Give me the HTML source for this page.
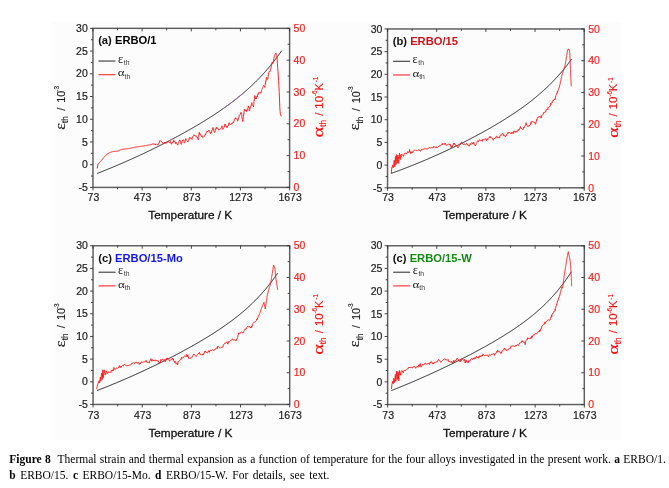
<!DOCTYPE html>
<html><head><meta charset="utf-8"><style>
html,body{margin:0;padding:0;background:#fff;}
body{width:669px;height:488px;overflow:hidden;position:relative;}
svg{position:absolute;left:0;top:0;will-change:transform;}
text{font-family:"Liberation Sans",sans-serif;}
.tl text{font-size:10.5px;fill:#222;stroke:#222;stroke-width:0.2px;}
.tr text{font-size:10.5px;fill:#ff1f1f;stroke:#ff1f1f;stroke-width:0.2px;}
.xt{font-size:11.8px;fill:#111;stroke:#111;stroke-width:0.3px;}
.ytl text{fill:#1a1a1a;stroke:#1a1a1a;stroke-width:0.12px;}
.ytr text{fill:#ff0a0a;stroke:#ff0a0a;stroke-width:0.12px;}
.g16{font-family:"Liberation Serif",serif;font-size:15px;}
.g14{font-family:"Liberation Serif",serif;font-size:14px;}
.s75{font-size:8.2px;}
.s11{font-size:11px;}
.s108{font-size:10.8px;}
.s115{font-size:11.4px;}
.s65{font-size:6.5px;}
.ttl{font-size:11.2px;font-weight:bold;fill:#111;}
.lgk{font-family:"Liberation Serif",serif;font-size:13px;fill:#222;}
.lgk2{font-family:"Liberation Serif",serif;font-size:10.5px;fill:#222;}
.lsub{font-size:6.8px;fill:#3a3a3a;}
.cap{position:absolute;left:9.3px;width:656.5px;font-family:"Liberation Serif",serif;font-size:11.5px;line-height:16px;color:#000;white-space:nowrap;}
.l1{top:451px;text-align:justify;text-align-last:justify;white-space:normal;}
.l2{top:467px;word-spacing:1.6px;}
</style></head><body>
<svg width="669" height="488" viewBox="0 0 669 488">
<rect x="53" y="22" width="569" height="418" fill="#fcfcfc"/>
<rect x="92.95" y="28.35" width="196.65" height="159.05" fill="none" stroke="#5e5e5e" stroke-width="1.45"/>
<path d="M92.95,187.40V190.40 M92.95,28.35V31.35 M117.53,187.40V189.40 M117.53,28.35V30.35 M142.11,187.40V190.40 M142.11,28.35V31.35 M166.69,187.40V189.40 M166.69,28.35V30.35 M191.28,187.40V190.40 M191.28,28.35V31.35 M215.86,187.40V189.40 M215.86,28.35V30.35 M240.44,187.40V190.40 M240.44,28.35V31.35 M265.02,187.40V189.40 M265.02,28.35V30.35 M289.60,187.40V190.40 M289.60,28.35V31.35 M92.95,187.40H89.95 M92.95,176.04H90.95 M92.95,164.68H89.95 M92.95,153.32H90.95 M92.95,141.96H89.95 M92.95,130.60H90.95 M92.95,119.24H89.95 M92.95,107.88H90.95 M92.95,96.51H89.95 M92.95,85.15H90.95 M92.95,73.79H89.95 M92.95,62.43H90.95 M92.95,51.07H89.95 M92.95,39.71H90.95 M92.95,28.35H89.95 M289.60,187.40H286.60 M289.60,171.50H287.60 M289.60,155.59H286.60 M289.60,139.69H287.60 M289.60,123.78H286.60 M289.60,107.88H287.60 M289.60,91.97H286.60 M289.60,76.06H287.60 M289.60,60.16H286.60 M289.60,44.25H287.60 M289.60,28.35H286.60" stroke="#333" stroke-width="0.9" fill="none"/>
<g class="tl"><text x="93.45" y="201.00" text-anchor="middle">73</text><text x="142.61" y="201.00" text-anchor="middle">473</text><text x="191.78" y="201.00" text-anchor="middle">873</text><text x="240.94" y="201.00" text-anchor="middle">1273</text><text x="290.10" y="201.00" text-anchor="middle">1673</text><text x="87.75" y="191.10" text-anchor="end">-5</text><text x="87.75" y="168.38" text-anchor="end">0</text><text x="87.75" y="145.66" text-anchor="end">5</text><text x="87.75" y="122.94" text-anchor="end">10</text><text x="87.75" y="100.21" text-anchor="end">15</text><text x="87.75" y="77.49" text-anchor="end">20</text><text x="87.75" y="54.77" text-anchor="end">25</text><text x="87.75" y="32.05" text-anchor="end">30</text></g>
<g class="tr"><text x="293.60" y="191.10">0</text><text x="293.60" y="159.29">10</text><text x="293.60" y="127.48">20</text><text x="293.60" y="95.67">30</text><text x="293.60" y="63.86">40</text><text x="293.60" y="32.05">50</text></g>
<text class="xt" x="190.28" y="218.70" text-anchor="middle">Temperature / K</text>
<g class="ytl" transform="translate(65.35,129.45) rotate(-90)"><text class="g16" x="-0.30" y="-0.80" textLength="6.6" lengthAdjust="spacingAndGlyphs">ε</text><text class="s75" x="6.50" y="2.70">th</text><text class="s11" x="18.70" y="0.00">/</text><text class="s108" x="26.80" y="0.00">10</text><text class="s65" x="37.80" y="-6.60">-3</text></g>
<g class="ytr" transform="translate(322.60,136.95) rotate(-90)"><text class="g14" x="-0.50" y="0.30" textLength="10.6" lengthAdjust="spacingAndGlyphs">α</text><text class="s75" x="10.20" y="3.30">th</text><text class="s11" x="21.10" y="0.00">/</text><text class="s115" x="28.30" y="0.00">10</text><text class="s65" x="40.80" y="-5.50">-6</text><text class="s11" x="46.40" y="0.00">K</text><text class="s65" x="54.60" y="-4.50">-1</text></g>
<text class="ttl" x="98.15" y="44.25">(a) <tspan fill="#000000">ERBO/1</tspan></text>
<path d="M98.45,61.05H115.45" stroke="#555" stroke-width="1.3"/>
<path d="M98.45,74.65H115.45" stroke="#ff4a4a" stroke-width="1.3"/>
<text class="lgk" x="117.95" y="62.65" textLength="5.2" lengthAdjust="spacingAndGlyphs">ε</text>
<text class="lsub" x="123.75" y="64.95">th</text>
<text class="lgk2" x="117.85" y="76.35" textLength="6.8" lengthAdjust="spacingAndGlyphs">α</text>
<text class="lsub" x="124.55" y="78.85">th</text>
<path d="M97.20,173.46 L97.70,173.26 L98.20,173.07 L98.70,172.87 L99.20,172.68 L99.70,172.48 L100.20,172.28 L100.70,172.08 L101.20,171.89 L101.70,171.69 L102.20,171.49 L102.70,171.29 L103.20,171.09 L103.70,170.89 L104.20,170.69 L104.70,170.49 L105.20,170.29 L105.70,170.08 L106.20,169.88 L106.70,169.68 L107.20,169.47 L107.70,169.27 L108.20,169.07 L108.70,168.86 L109.20,168.66 L109.70,168.45 L110.20,168.25 L110.70,168.04 L111.20,167.83 L111.70,167.62 L112.20,167.42 L112.70,167.21 L113.20,167.00 L113.70,166.79 L114.20,166.58 L114.70,166.37 L115.20,166.16 L115.70,165.95 L116.20,165.74 L116.70,165.53 L117.20,165.31 L117.70,165.10 L118.20,164.89 L118.70,164.68 L119.20,164.46 L119.70,164.25 L120.20,164.03 L120.70,163.82 L121.20,163.60 L121.70,163.38 L122.20,163.17 L122.70,162.95 L123.20,162.73 L123.70,162.52 L124.20,162.30 L124.70,162.08 L125.20,161.86 L125.70,161.64 L126.20,161.42 L126.70,161.20 L127.20,160.98 L127.70,160.76 L128.20,160.53 L128.70,160.31 L129.20,160.09 L129.70,159.87 L130.20,159.64 L130.70,159.42 L131.20,159.19 L131.70,158.97 L132.20,158.74 L132.70,158.52 L133.20,158.29 L133.70,158.06 L134.20,157.84 L134.70,157.61 L135.20,157.38 L135.70,157.15 L136.20,156.92 L136.70,156.69 L137.20,156.46 L137.70,156.23 L138.20,156.00 L138.70,155.77 L139.20,155.54 L139.70,155.31 L140.20,155.07 L140.70,154.84 L141.20,154.61 L141.70,154.37 L142.20,154.14 L142.70,153.90 L143.20,153.67 L143.70,153.43 L144.20,153.20 L144.70,152.96 L145.20,152.72 L145.70,152.48 L146.20,152.25 L146.70,152.01 L147.20,151.77 L147.70,151.53 L148.20,151.29 L148.70,151.05 L149.20,150.81 L149.70,150.57 L150.20,150.33 L150.70,150.08 L151.20,149.84 L151.70,149.60 L152.20,149.35 L152.70,149.11 L153.20,148.87 L153.70,148.62 L154.20,148.37 L154.70,148.13 L155.20,147.88 L155.70,147.64 L156.20,147.39 L156.70,147.14 L157.20,146.89 L157.70,146.64 L158.20,146.39 L158.70,146.14 L159.20,145.89 L159.70,145.64 L160.20,145.39 L160.70,145.14 L161.20,144.89 L161.70,144.64 L162.20,144.38 L162.70,144.13 L163.20,143.87 L163.70,143.62 L164.20,143.36 L164.70,143.11 L165.20,142.85 L165.70,142.60 L166.20,142.34 L166.70,142.08 L167.20,141.82 L167.70,141.56 L168.20,141.30 L168.70,141.04 L169.20,140.78 L169.70,140.52 L170.20,140.26 L170.70,140.00 L171.20,139.74 L171.70,139.48 L172.20,139.21 L172.70,138.95 L173.20,138.68 L173.70,138.42 L174.20,138.15 L174.70,137.89 L175.20,137.62 L175.70,137.35 L176.20,137.08 L176.70,136.82 L177.20,136.55 L177.70,136.28 L178.20,136.01 L178.70,135.74 L179.20,135.47 L179.70,135.19 L180.20,134.92 L180.70,134.65 L181.20,134.37 L181.70,134.10 L182.20,133.82 L182.70,133.55 L183.20,133.27 L183.70,133.00 L184.20,132.72 L184.70,132.44 L185.20,132.16 L185.70,131.88 L186.20,131.60 L186.70,131.32 L187.20,131.04 L187.70,130.76 L188.20,130.48 L188.70,130.19 L189.20,129.91 L189.70,129.63 L190.20,129.34 L190.70,129.05 L191.20,128.77 L191.70,128.48 L192.20,128.19 L192.70,127.90 L193.20,127.61 L193.70,127.32 L194.20,127.03 L194.70,126.74 L195.20,126.45 L195.70,126.16 L196.20,125.86 L196.70,125.57 L197.20,125.27 L197.70,124.97 L198.20,124.68 L198.70,124.38 L199.20,124.08 L199.70,123.78 L200.20,123.48 L200.70,123.18 L201.20,122.88 L201.70,122.57 L202.20,122.27 L202.70,121.97 L203.20,121.66 L203.70,121.35 L204.20,121.05 L204.70,120.74 L205.20,120.43 L205.70,120.12 L206.20,119.81 L206.70,119.50 L207.20,119.18 L207.70,118.87 L208.20,118.55 L208.70,118.24 L209.20,117.92 L209.70,117.60 L210.20,117.28 L210.70,116.96 L211.20,116.64 L211.70,116.32 L212.20,116.00 L212.70,115.67 L213.20,115.35 L213.70,115.02 L214.20,114.69 L214.70,114.36 L215.20,114.03 L215.70,113.70 L216.20,113.37 L216.70,113.04 L217.20,112.70 L217.70,112.37 L218.20,112.03 L218.70,111.69 L219.20,111.35 L219.70,111.01 L220.20,110.67 L220.70,110.32 L221.20,109.98 L221.70,109.63 L222.20,109.29 L222.70,108.94 L223.20,108.59 L223.70,108.23 L224.20,107.88 L224.70,107.53 L225.20,107.17 L225.70,106.81 L226.20,106.45 L226.70,106.09 L227.20,105.73 L227.70,105.37 L228.20,105.00 L228.70,104.63 L229.20,104.26 L229.70,103.89 L230.20,103.52 L230.70,103.15 L231.20,102.77 L231.70,102.40 L232.20,102.02 L232.70,101.64 L233.20,101.25 L233.70,100.87 L234.20,100.48 L234.70,100.10 L235.20,99.71 L235.70,99.31 L236.20,98.92 L236.70,98.52 L237.20,98.13 L237.70,97.73 L238.20,97.32 L238.70,96.92 L239.20,96.52 L239.70,96.11 L240.20,95.70 L240.70,95.28 L241.20,94.87 L241.70,94.45 L242.20,94.03 L242.70,93.61 L243.20,93.19 L243.70,92.76 L244.20,92.33 L244.70,91.90 L245.20,91.47 L245.70,91.04 L246.20,90.60 L246.70,90.16 L247.20,89.71 L247.70,89.27 L248.20,88.82 L248.70,88.37 L249.20,87.91 L249.70,87.46 L250.20,87.00 L250.70,86.54 L251.20,86.07 L251.70,85.60 L252.20,85.13 L252.70,84.66 L253.20,84.18 L253.70,83.70 L254.20,83.22 L254.70,82.74 L255.20,82.25 L255.70,81.75 L256.20,81.26 L256.70,80.76 L257.20,80.26 L257.70,79.75 L258.20,79.25 L258.70,78.73 L259.20,78.22 L259.70,77.70 L260.20,77.18 L260.70,76.65 L261.20,76.12 L261.70,75.59 L262.20,75.05 L262.70,74.51 L263.20,73.97 L263.70,73.42 L264.20,72.87 L264.70,72.31 L265.20,71.75 L265.70,71.19 L266.20,70.62 L266.70,70.05 L267.20,69.47 L267.70,68.89 L268.20,68.30 L268.70,67.71 L269.20,67.12 L269.70,66.52 L270.20,65.92 L270.70,65.31 L271.20,64.70 L271.70,64.08 L272.20,63.46 L272.70,62.84 L273.20,62.20 L273.70,61.57 L274.20,60.93 L274.70,60.28 L275.20,59.63 L275.70,58.97 L276.20,58.31 L276.70,57.65 L277.20,56.98 L277.70,56.30 L278.20,55.62 L278.70,54.93 L279.20,54.23 L279.70,53.53 L280.20,52.83 L280.70,52.12 L281.20,51.40 L281.70,50.68" stroke="#1a1a1a" stroke-width="1" fill="none"/>
<path d="M222.70,108.94 L223.20,108.59 L223.70,108.23 L224.20,107.88 L224.70,107.53 L225.20,107.17 L225.70,106.81 L226.20,106.45 L226.70,106.09 L227.20,105.73 L227.70,105.37 L228.20,105.00 L228.70,104.63 L229.20,104.26 L229.70,103.89 L230.20,103.52 L230.70,103.15 L231.20,102.77 L231.70,102.40 L232.20,102.02 L232.70,101.64 L233.20,101.25 L233.70,100.87 L234.20,100.48 L234.70,100.10 L235.20,99.71 L235.70,99.31 L236.20,98.92 L236.70,98.52 L237.20,98.13 L237.70,97.73 L238.20,97.32 L238.70,96.92 L239.20,96.52 L239.70,96.11 L240.20,95.70 L240.70,95.28 L241.20,94.87 L241.70,94.45 L242.20,94.03 L242.70,93.61" stroke="#a070b8" stroke-width="1" fill="none"/>
<path d="M97.20,168.40 L97.70,165.24 L98.20,164.13 L98.70,163.31 L99.20,162.71 L99.70,162.24 L100.20,161.82 L100.70,161.36 L101.20,160.80 L101.70,160.14 L102.20,159.47 L102.70,158.80 L103.20,158.15 L103.70,157.54 L104.20,156.98 L104.70,156.44 L105.20,155.92 L105.70,155.43 L106.20,154.97 L106.70,154.55 L107.20,154.18 L107.70,153.81 L108.20,153.47 L108.70,153.16 L109.20,152.88 L109.70,152.64 L110.20,152.44 L110.70,152.24 L111.20,152.06 L111.70,151.90 L112.20,151.75 L112.70,151.63 L113.20,151.53 L113.70,151.46 L114.20,151.41 L114.70,151.37 L115.20,151.34 L115.70,151.31 L116.20,151.28 L116.70,151.23 L117.20,151.18 L117.70,151.10 L118.20,150.90 L118.70,150.60 L119.20,150.36 L119.70,150.17 L120.20,149.99 L120.70,149.82 L121.20,149.67 L121.70,149.53 L122.20,149.40 L122.70,149.30 L123.20,149.21 L123.70,149.13 L124.20,149.06 L124.70,149.00 L125.20,148.94 L125.70,148.89 L126.20,148.83 L126.70,148.78 L127.20,148.72 L127.70,148.66 L128.20,148.60 L128.70,148.53 L129.20,148.45 L129.70,148.37 L130.20,148.28 L130.70,148.18 L131.20,148.08 L131.70,147.97 L132.20,147.87 L132.70,147.76 L133.20,147.65 L133.70,147.55 L134.20,147.44 L134.70,147.34 L135.20,147.25 L135.70,147.15 L136.20,147.07 L136.70,146.98 L137.20,146.90 L137.70,146.83 L138.20,146.75 L138.70,146.68 L139.20,146.61 L139.70,146.53 L140.20,146.46 L140.70,146.39 L141.20,146.32 L141.70,146.24 L142.20,146.16 L142.70,146.08 L143.20,146.00 L143.70,145.91 L144.20,145.83 L144.70,145.74 L145.20,145.65 L145.70,145.55 L146.20,145.46 L146.70,145.36 L147.20,145.27 L147.70,145.17 L148.20,145.07 L148.70,144.97 L149.20,144.87 L149.70,144.76 L150.80,144.81 L151.60,144.39 L152.40,143.94 L153.20,144.13 L154.00,143.73 L154.80,144.29 L155.40,145.00 L155.59,143.94 L156.38,144.01 L157.17,144.82 L157.96,144.89 L158.10,144.76 L158.42,143.56 L158.82,143.41 L159.21,143.14 L159.61,141.22 L159.90,141.23 L160.07,140.46 L160.76,141.24 L161.46,141.32 L162.15,142.69 L162.60,142.34 L162.87,143.30 L163.67,143.36 L164.46,143.27 L165.20,141.99 L165.25,143.16 L165.99,143.15 L166.74,142.94 L167.48,141.65 L167.90,142.11 L168.25,141.76 L169.04,141.75 L169.83,142.75 L170.60,141.52 L170.61,142.01 L170.91,143.30 L171.22,143.16 L171.50,144.13 L171.53,144.22 L171.98,143.52 L172.43,142.09 L172.88,142.20 L173.33,142.31 L173.78,139.90 L173.80,141.32 L174.36,141.40 L174.94,141.50 L175.52,143.64 L176.00,143.36 L176.10,142.28 L176.67,143.61 L177.23,144.48 L177.80,144.59 L177.80,145.11 L178.10,143.91 L178.40,143.61 L178.70,143.32 L178.99,141.31 L179.29,141.09 L179.59,139.95 L179.60,140.28 L179.95,140.18 L180.31,141.26 L180.67,142.21 L181.02,143.59 L181.38,144.45 L181.40,143.01 L181.68,142.61 L181.98,142.73 L182.28,140.40 L182.58,140.58 L182.88,140.05 L183.18,140.12 L183.20,139.71 L183.45,139.80 L183.72,140.53 L184.00,141.35 L184.27,143.17 L184.50,142.64 L184.54,142.60 L184.80,142.24 L185.06,141.19 L185.32,140.39 L185.58,139.08 L185.84,138.98 L185.90,138.53 L186.24,140.00 L186.68,140.36 L187.13,140.62 L187.57,141.71 L187.70,141.30 L187.99,141.64 L188.39,140.31 L188.79,139.97 L189.20,138.15 L189.50,138.61 L189.68,137.48 L190.39,137.63 L191.11,139.02 L191.30,138.76 L191.60,138.88 L192.00,139.44 L192.40,136.90 L192.80,136.33 L193.20,136.13 L193.61,135.61 L193.90,134.69 L194.08,134.79 L194.75,135.79 L195.41,136.12 L196.08,135.63 L196.60,136.55 L196.70,136.77 L197.15,136.79 L197.59,138.24 L198.04,138.24 L198.40,139.88 L198.42,139.27 L198.55,138.42 L198.67,137.21 L198.79,136.70 L198.91,134.78 L199.04,134.51 L199.16,134.61 L199.28,132.32 L199.30,134.01 L199.76,132.98 L200.29,135.09 L200.81,134.73 L201.34,136.31 L201.87,136.53 L202.00,135.68 L202.59,137.24 L203.38,137.21 L204.17,136.16 L204.70,135.94 L204.82,135.77 L205.19,134.56 L205.56,135.09 L205.92,133.40 L206.29,132.98 L206.50,132.12 L206.74,131.98 L207.29,131.01 L207.85,131.95 L208.41,130.52 L208.90,130.68 L208.94,130.19 L209.26,130.50 L209.58,131.46 L209.90,132.05 L210.22,133.13 L210.54,133.64 L210.60,133.82 L210.85,132.57 L211.15,132.17 L211.46,132.90 L211.76,130.77 L212.07,129.79 L212.37,129.88 L212.68,129.78 L212.90,127.53 L212.99,128.48 L213.30,128.96 L213.61,129.02 L213.93,131.26 L214.24,131.54 L214.56,132.34 L214.60,131.95 L214.87,132.04 L215.19,130.71 L215.51,130.21 L215.83,128.89 L216.15,128.09 L216.46,128.88 L216.78,127.04 L216.80,127.48 L217.28,127.86 L217.79,128.24 L218.30,128.82 L218.81,130.12 L219.10,129.92 L219.32,129.74 L219.83,129.23 L220.34,129.30 L220.85,128.38 L221.36,127.59 L221.87,126.40 L221.90,125.87 L222.23,127.95 L222.57,128.69 L222.92,128.75 L223.00,129.33 L223.25,128.91 L223.58,128.21 L223.91,127.53 L224.24,125.97 L224.57,126.42 L224.90,124.03 L225.23,124.56 L225.30,124.20 L225.59,125.00 L225.95,126.32 L226.30,126.80 L226.66,125.94 L227.00,126.29 L227.03,127.75 L227.46,125.97 L227.90,125.90 L228.34,125.74 L228.77,123.57 L229.20,122.63 L229.21,124.06 L229.89,124.37 L230.56,124.63 L230.90,125.02 L231.19,124.21 L231.77,123.26 L232.35,123.51 L232.93,122.48 L233.20,121.81 L233.39,122.72 L233.74,121.66 L234.09,121.22 L234.45,119.66 L234.80,119.14 L235.15,118.21 L235.40,117.77 L235.59,118.56 L236.24,118.45 L236.88,119.61 L237.53,120.08 L237.70,121.22 L237.93,118.63 L238.25,119.26 L238.57,117.93 L238.89,117.24 L239.21,115.64 L239.53,115.50 L239.85,115.49 L240.16,114.25 L240.48,113.61 L240.80,112.65 L240.90,113.29 L241.02,113.13 L241.20,112.60 L241.37,114.29 L241.55,114.31 L241.72,114.32 L241.90,116.74 L242.07,118.64 L242.25,118.65 L242.42,118.71 L242.60,119.63 L242.77,121.65 L242.80,121.19 L242.90,120.46 L243.01,119.60 L243.12,118.86 L243.24,118.53 L243.35,117.58 L243.46,116.59 L243.58,115.04 L243.69,115.17 L243.80,113.66 L243.92,113.93 L244.03,111.72 L244.14,111.61 L244.26,110.89 L244.37,109.30 L244.49,110.34 L244.50,110.08 L244.98,109.43 L245.54,110.75 L246.09,111.09 L246.65,109.88 L246.70,111.65 L246.91,110.77 L247.14,110.09 L247.38,108.62 L247.61,108.34 L247.84,107.63 L248.08,107.68 L248.31,106.40 L248.40,105.90 L248.52,107.30 L248.71,106.83 L248.90,107.71 L249.09,107.63 L249.28,110.44 L249.47,110.86 L249.50,110.95 L249.70,110.15 L249.94,109.05 L250.18,108.35 L250.42,107.30 L250.65,106.56 L250.89,105.95 L251.13,106.06 L251.37,104.72 L251.61,103.58 L251.80,102.65 L251.86,102.76 L252.17,104.84 L252.49,104.92 L252.80,105.40 L253.12,105.89 L253.43,106.17 L253.50,106.96 L253.56,106.90 L253.65,105.34 L253.73,104.64 L253.81,103.85 L253.89,103.25 L253.98,101.43 L254.06,101.44 L254.14,100.27 L254.23,100.52 L254.31,98.73 L254.39,98.74 L254.47,98.51 L254.56,96.61 L254.64,95.63 L254.70,95.51 L254.78,95.59 L255.08,95.74 L255.38,97.35 L255.68,99.03 L255.98,98.41 L256.20,98.98 L256.28,98.26 L256.54,98.32 L256.81,96.62 L257.08,95.95 L257.34,96.63 L257.61,94.56 L257.88,94.99 L258.15,94.50 L258.41,92.99 L258.60,92.63 L258.80,93.60 L259.48,92.74 L260.16,92.93 L260.50,92.69 L260.64,93.15 L260.92,93.26 L261.20,92.20 L261.49,90.30 L261.77,89.60 L262.05,89.06 L262.33,88.79 L262.61,87.74 L262.90,87.24 L263.18,86.54 L263.46,85.43 L263.50,85.48 L263.99,86.11 L264.56,86.50 L264.80,87.10 L264.89,87.47 L265.04,85.92 L265.19,84.81 L265.34,82.98 L265.50,83.43 L265.65,81.24 L265.80,80.78 L265.95,81.35 L266.11,80.46 L266.26,79.17 L266.41,77.51 L266.56,77.48 L266.60,77.13 L267.02,78.27 L267.56,79.55 L267.80,78.89 L267.88,78.03 L268.02,77.10 L268.16,76.75 L268.30,75.91 L268.43,74.78 L268.57,74.44 L268.71,73.23 L268.85,73.17 L268.99,72.35 L269.10,71.71 L269.27,71.27 L270.07,71.50 L270.30,71.38 L270.42,70.78 L270.58,70.00 L270.74,69.10 L270.90,68.32 L271.07,67.77 L271.23,66.89 L271.39,66.13 L271.55,65.38 L271.71,64.50 L271.88,63.75 L272.04,62.98 L272.20,62.20 L272.20,62.21 L272.56,62.93 L272.80,63.40 L272.86,63.13 L273.04,62.35 L273.21,61.57 L273.39,60.78 L273.57,60.00 L273.74,59.22 L273.92,58.43 L274.09,57.65 L274.27,56.87 L274.45,56.08 L274.60,55.40 L274.64,55.31 L274.99,54.58 L275.34,53.86 L275.69,53.14 L275.80,52.90 L276.05,53.38 L276.43,54.09 L276.80,54.80 L277.10,58.95 L277.40,63.16 L277.70,67.42 L278.00,71.59 L278.30,75.89 L278.60,80.60 L278.90,85.70 L279.20,91.46 L279.50,98.95 L279.80,107.18 L280.10,111.36 L280.40,113.73 L280.70,114.95 L281.00,115.89 L281.30,116.48" stroke="#ff1a1a" stroke-width="0.95" fill="none" stroke-linejoin="round"/>
<rect x="387.55" y="28.95" width="196.65" height="158.85" fill="none" stroke="#5e5e5e" stroke-width="1.45"/>
<path d="M387.55,187.80V190.80 M387.55,28.95V31.95 M412.13,187.80V189.80 M412.13,28.95V30.95 M436.71,187.80V190.80 M436.71,28.95V31.95 M461.29,187.80V189.80 M461.29,28.95V30.95 M485.88,187.80V190.80 M485.88,28.95V31.95 M510.46,187.80V189.80 M510.46,28.95V30.95 M535.04,187.80V190.80 M535.04,28.95V31.95 M559.62,187.80V189.80 M559.62,28.95V30.95 M584.20,187.80V190.80 M584.20,28.95V31.95 M387.55,187.80H384.55 M387.55,176.45H385.55 M387.55,165.11H384.55 M387.55,153.76H385.55 M387.55,142.41H384.55 M387.55,131.07H385.55 M387.55,119.72H384.55 M387.55,108.37H385.55 M387.55,97.03H384.55 M387.55,85.68H385.55 M387.55,74.34H384.55 M387.55,62.99H385.55 M387.55,51.64H384.55 M387.55,40.30H385.55 M387.55,28.95H384.55 M584.20,187.80H581.20 M584.20,171.91H582.20 M584.20,156.03H581.20 M584.20,140.14H582.20 M584.20,124.26H581.20 M584.20,108.37H582.20 M584.20,92.49H581.20 M584.20,76.60H582.20 M584.20,60.72H581.20 M584.20,44.84H582.20 M584.20,28.95H581.20" stroke="#333" stroke-width="0.9" fill="none"/>
<g class="tl"><text x="388.05" y="201.40" text-anchor="middle">73</text><text x="437.21" y="201.40" text-anchor="middle">473</text><text x="486.38" y="201.40" text-anchor="middle">873</text><text x="535.54" y="201.40" text-anchor="middle">1273</text><text x="584.70" y="201.40" text-anchor="middle">1673</text><text x="382.35" y="191.50" text-anchor="end">-5</text><text x="382.35" y="168.81" text-anchor="end">0</text><text x="382.35" y="146.11" text-anchor="end">5</text><text x="382.35" y="123.42" text-anchor="end">10</text><text x="382.35" y="100.73" text-anchor="end">15</text><text x="382.35" y="78.04" text-anchor="end">20</text><text x="382.35" y="55.34" text-anchor="end">25</text><text x="382.35" y="32.65" text-anchor="end">30</text></g>
<g class="tr"><text x="588.20" y="191.50">0</text><text x="588.20" y="159.73">10</text><text x="588.20" y="127.96">20</text><text x="588.20" y="96.19">30</text><text x="588.20" y="64.42">40</text><text x="588.20" y="32.65">50</text></g>
<text class="xt" x="484.88" y="219.10" text-anchor="middle">Temperature / K</text>
<g class="ytl" transform="translate(359.95,130.05) rotate(-90)"><text class="g16" x="-0.30" y="-0.80" textLength="6.6" lengthAdjust="spacingAndGlyphs">ε</text><text class="s75" x="6.50" y="2.70">th</text><text class="s11" x="18.70" y="0.00">/</text><text class="s108" x="26.80" y="0.00">10</text><text class="s65" x="37.80" y="-6.60">-3</text></g>
<g class="ytr" transform="translate(617.20,137.55) rotate(-90)"><text class="g14" x="-0.50" y="0.30" textLength="10.6" lengthAdjust="spacingAndGlyphs">α</text><text class="s75" x="10.20" y="3.30">th</text><text class="s11" x="21.10" y="0.00">/</text><text class="s115" x="28.30" y="0.00">10</text><text class="s65" x="40.80" y="-5.50">-6</text><text class="s11" x="46.40" y="0.00">K</text><text class="s65" x="54.60" y="-4.50">-1</text></g>
<text class="ttl" x="392.75" y="44.85">(b) <tspan fill="#d0121b">ERBO/15</tspan></text>
<path d="M393.05,61.35H410.05" stroke="#555" stroke-width="1.3"/>
<path d="M393.05,74.95H410.05" stroke="#ff4a4a" stroke-width="1.3"/>
<text class="lgk" x="412.55" y="62.95" textLength="5.2" lengthAdjust="spacingAndGlyphs">ε</text>
<text class="lsub" x="418.35" y="65.25">th</text>
<text class="lgk2" x="412.45" y="76.65" textLength="6.8" lengthAdjust="spacingAndGlyphs">α</text>
<text class="lsub" x="419.15" y="79.15">th</text>
<path d="M391.10,173.44 L391.60,173.26 L392.10,173.08 L392.60,172.90 L393.10,172.72 L393.60,172.54 L394.10,172.36 L394.60,172.18 L395.10,172.00 L395.60,171.81 L396.10,171.63 L396.60,171.45 L397.10,171.26 L397.60,171.08 L398.10,170.89 L398.60,170.71 L399.10,170.52 L399.60,170.33 L400.10,170.15 L400.60,169.96 L401.10,169.77 L401.60,169.58 L402.10,169.39 L402.60,169.20 L403.10,169.01 L403.60,168.82 L404.10,168.63 L404.60,168.44 L405.10,168.25 L405.60,168.05 L406.10,167.86 L406.60,167.67 L407.10,167.47 L407.60,167.28 L408.10,167.08 L408.60,166.88 L409.10,166.69 L409.60,166.49 L410.10,166.29 L410.60,166.10 L411.10,165.90 L411.60,165.70 L412.10,165.50 L412.60,165.30 L413.10,165.10 L413.60,164.90 L414.10,164.70 L414.60,164.50 L415.10,164.29 L415.60,164.09 L416.10,163.89 L416.60,163.68 L417.10,163.48 L417.60,163.28 L418.10,163.07 L418.60,162.87 L419.10,162.66 L419.60,162.45 L420.10,162.24 L420.60,162.04 L421.10,161.83 L421.60,161.62 L422.10,161.41 L422.60,161.20 L423.10,160.99 L423.60,160.78 L424.10,160.57 L424.60,160.36 L425.10,160.15 L425.60,159.93 L426.10,159.72 L426.60,159.51 L427.10,159.29 L427.60,159.08 L428.10,158.86 L428.60,158.65 L429.10,158.43 L429.60,158.21 L430.10,158.00 L430.60,157.78 L431.10,157.56 L431.60,157.34 L432.10,157.12 L432.60,156.90 L433.10,156.68 L433.60,156.46 L434.10,156.24 L434.60,156.02 L435.10,155.80 L435.60,155.57 L436.10,155.35 L436.60,155.13 L437.10,154.90 L437.60,154.68 L438.10,154.45 L438.60,154.23 L439.10,154.00 L439.60,153.78 L440.10,153.55 L440.60,153.32 L441.10,153.09 L441.60,152.86 L442.10,152.63 L442.60,152.40 L443.10,152.17 L443.60,151.94 L444.10,151.71 L444.60,151.48 L445.10,151.25 L445.60,151.02 L446.10,150.78 L446.60,150.55 L447.10,150.31 L447.60,150.08 L448.10,149.84 L448.60,149.61 L449.10,149.37 L449.60,149.13 L450.10,148.90 L450.60,148.66 L451.10,148.42 L451.60,148.18 L452.10,147.94 L452.60,147.70 L453.10,147.46 L453.60,147.22 L454.10,146.98 L454.60,146.74 L455.10,146.50 L455.60,146.25 L456.10,146.01 L456.60,145.76 L457.10,145.52 L457.60,145.27 L458.10,145.03 L458.60,144.78 L459.10,144.54 L459.60,144.29 L460.10,144.04 L460.60,143.79 L461.10,143.54 L461.60,143.29 L462.10,143.04 L462.60,142.79 L463.10,142.54 L463.60,142.29 L464.10,142.04 L464.60,141.78 L465.10,141.53 L465.60,141.28 L466.10,141.02 L466.60,140.77 L467.10,140.51 L467.60,140.25 L468.10,140.00 L468.60,139.74 L469.10,139.48 L469.60,139.22 L470.10,138.96 L470.60,138.70 L471.10,138.44 L471.60,138.18 L472.10,137.92 L472.60,137.66 L473.10,137.40 L473.60,137.13 L474.10,136.87 L474.60,136.60 L475.10,136.34 L475.60,136.07 L476.10,135.81 L476.60,135.54 L477.10,135.27 L477.60,135.00 L478.10,134.74 L478.60,134.47 L479.10,134.20 L479.60,133.92 L480.10,133.65 L480.60,133.38 L481.10,133.11 L481.60,132.83 L482.10,132.56 L482.60,132.28 L483.10,132.01 L483.60,131.73 L484.10,131.46 L484.60,131.18 L485.10,130.90 L485.60,130.62 L486.10,130.34 L486.60,130.06 L487.10,129.78 L487.60,129.50 L488.10,129.21 L488.60,128.93 L489.10,128.65 L489.60,128.36 L490.10,128.08 L490.60,127.79 L491.10,127.50 L491.60,127.21 L492.10,126.92 L492.60,126.63 L493.10,126.34 L493.60,126.05 L494.10,125.76 L494.60,125.47 L495.10,125.17 L495.60,124.88 L496.10,124.58 L496.60,124.29 L497.10,123.99 L497.60,123.69 L498.10,123.39 L498.60,123.09 L499.10,122.79 L499.60,122.49 L500.10,122.19 L500.60,121.88 L501.10,121.58 L501.60,121.27 L502.10,120.96 L502.60,120.66 L503.10,120.35 L503.60,120.04 L504.10,119.73 L504.60,119.42 L505.10,119.10 L505.60,118.79 L506.10,118.47 L506.60,118.16 L507.10,117.84 L507.60,117.52 L508.10,117.20 L508.60,116.88 L509.10,116.56 L509.60,116.24 L510.10,115.91 L510.60,115.59 L511.10,115.26 L511.60,114.93 L512.10,114.60 L512.60,114.27 L513.10,113.94 L513.60,113.61 L514.10,113.28 L514.60,112.94 L515.10,112.60 L515.60,112.27 L516.10,111.93 L516.60,111.58 L517.10,111.24 L517.60,110.90 L518.10,110.55 L518.60,110.21 L519.10,109.86 L519.60,109.51 L520.10,109.16 L520.60,108.80 L521.10,108.45 L521.60,108.09 L522.10,107.74 L522.60,107.38 L523.10,107.02 L523.60,106.65 L524.10,106.29 L524.60,105.92 L525.10,105.56 L525.60,105.19 L526.10,104.81 L526.60,104.44 L527.10,104.07 L527.60,103.69 L528.10,103.31 L528.60,102.93 L529.10,102.55 L529.60,102.16 L530.10,101.78 L530.60,101.39 L531.10,101.00 L531.60,100.60 L532.10,100.21 L532.60,99.81 L533.10,99.41 L533.60,99.01 L534.10,98.61 L534.60,98.20 L535.10,97.79 L535.60,97.38 L536.10,96.97 L536.60,96.56 L537.10,96.14 L537.60,95.72 L538.10,95.30 L538.60,94.87 L539.10,94.44 L539.60,94.01 L540.10,93.58 L540.60,93.14 L541.10,92.71 L541.60,92.27 L542.10,91.82 L542.60,91.38 L543.10,90.93 L543.60,90.47 L544.10,90.02 L544.60,89.56 L545.10,89.10 L545.60,88.63 L546.10,88.17 L546.60,87.70 L547.10,87.22 L547.60,86.75 L548.10,86.27 L548.60,85.78 L549.10,85.30 L549.60,84.81 L550.10,84.31 L550.60,83.81 L551.10,83.31 L551.60,82.81 L552.10,82.30 L552.60,81.79 L553.10,81.28 L553.60,80.76 L554.10,80.23 L554.60,79.71 L555.10,79.18 L555.60,78.64 L556.10,78.10 L556.60,77.56 L557.10,77.01 L557.60,76.46 L558.10,75.90 L558.60,75.34 L559.10,74.78 L559.60,74.21 L560.10,73.64 L560.60,73.06 L561.10,72.48 L561.60,71.89 L562.10,71.30 L562.60,70.70 L563.10,70.10 L563.60,69.49 L564.10,68.88 L564.60,68.27 L565.10,67.64 L565.60,67.02 L566.10,66.39 L566.60,65.75 L567.10,65.10 L567.60,64.46 L568.10,63.80 L568.60,63.14 L569.10,62.48 L569.60,61.81 L570.10,61.13 L570.60,60.45 L571.10,59.76 L571.60,59.06" stroke="#1a1a1a" stroke-width="1" fill="none"/>
<path d="M391.30,173.20 L391.70,168.81 L392.10,167.20 L392.10,167.60 L392.76,164.93 L393.57,167.48 L394.18,160.26 L394.83,166.79 L395.50,156.54 L396.00,164.58 L396.50,154.52 L397.24,163.42 L397.89,155.25 L398.20,158.05 L398.27,157.25 L398.35,158.87 L398.42,159.24 L398.50,159.67 L398.57,161.41 L398.64,161.69 L398.72,163.02 L398.79,163.36 L398.80,162.74 L398.85,162.73 L398.91,162.04 L398.97,161.87 L399.03,159.77 L399.09,159.58 L399.15,157.60 L399.21,158.46 L399.27,156.44 L399.33,155.14 L399.39,155.56 L399.45,155.57 L399.50,153.13 L399.54,153.64 L399.68,154.67 L399.82,155.19 L399.96,157.03 L400.10,156.99 L400.25,157.84 L400.39,159.55 L400.40,158.67 L400.54,158.78 L400.69,157.01 L400.84,156.05 L400.99,154.82 L401.14,156.62 L401.29,154.31 L401.30,154.67 L402.02,154.74 L402.78,155.16 L403.20,155.23 L403.51,156.37 L404.21,153.91 L404.91,153.16 L405.00,153.49 L405.60,152.91 L406.29,153.95 L406.98,153.59 L407.50,152.03 L407.66,151.63 L408.35,151.93 L409.03,152.73 L409.60,149.43 L409.68,151.87 L410.17,151.39 L410.65,153.51 L411.14,152.67 L411.20,153.30 L411.65,151.91 L412.17,151.67 L412.69,152.71 L412.90,152.07 L413.37,151.11 L414.16,150.61 L414.94,149.71 L415.72,150.59 L416.00,150.78 L416.51,150.65 L417.30,150.51 L418.09,149.65 L418.88,150.25 L419.67,150.13 L420.00,151.00 L420.46,151.32 L421.25,149.78 L422.04,149.19 L422.83,149.54 L423.62,149.02 L424.41,148.78 L425.20,149.12 L425.99,148.29 L426.78,149.30 L427.20,148.73 L427.57,148.89 L428.35,148.42 L429.14,147.86 L429.92,147.53 L430.71,147.85 L431.49,147.46 L432.27,147.84 L433.06,147.50 L433.50,146.45 L433.84,147.54 L434.61,146.76 L435.39,147.48 L436.10,147.89 L436.16,146.62 L436.86,147.74 L437.56,147.40 L438.26,146.79 L438.96,146.21 L439.66,145.86 L439.70,145.42 L440.33,145.49 L441.00,144.85 L441.67,144.85 L442.34,143.50 L442.40,144.46 L443.10,144.21 L443.87,143.79 L444.20,143.49 L444.61,144.40 L445.33,143.22 L446.04,145.08 L446.75,145.29 L446.90,145.40 L447.46,145.18 L448.18,144.08 L448.89,143.99 L449.60,144.25 L449.60,144.10 L449.96,144.66 L450.32,144.18 L450.68,146.33 L451.04,147.49 L451.40,148.10 L451.40,147.56 L451.92,145.71 L452.45,146.86 L452.98,145.49 L453.50,143.21 L454.03,144.64 L454.10,143.26 L454.73,143.69 L455.45,144.51 L456.17,146.19 L456.80,145.34 L456.88,145.86 L457.52,147.38 L458.15,147.77 L458.60,146.93 L458.72,146.63 L459.13,145.23 L459.55,144.94 L459.96,145.03 L460.37,144.32 L460.79,143.43 L461.20,143.36 L461.30,141.96 L461.80,142.81 L462.46,143.81 L463.12,144.17 L463.78,144.97 L463.90,144.58 L464.55,144.16 L465.35,144.71 L466.15,143.85 L466.94,143.49 L467.50,145.11 L467.67,144.83 L468.24,145.66 L468.81,144.82 L469.30,146.24 L469.36,145.99 L469.85,145.17 L470.33,143.55 L470.81,144.25 L471.29,144.47 L471.77,143.47 L472.00,142.48 L472.34,143.14 L473.00,144.15 L473.65,142.15 L474.30,144.47 L474.95,145.40 L475.20,145.68 L475.43,145.95 L475.81,144.85 L476.19,143.57 L476.57,142.85 L476.95,142.48 L477.33,140.85 L477.40,141.07 L477.93,141.35 L478.59,141.61 L479.20,139.69 L479.24,139.77 L480.04,140.07 L480.83,141.00 L481.62,140.17 L482.30,141.33 L482.40,139.57 L483.11,139.74 L483.82,139.36 L484.40,139.75 L484.54,140.00 L485.25,138.59 L485.96,139.38 L486.50,140.54 L486.63,139.70 L487.20,138.53 L487.77,139.76 L488.34,138.81 L488.91,138.24 L489.47,136.99 L490.04,137.48 L490.20,136.43 L490.60,137.78 L491.16,136.95 L491.72,137.57 L492.28,138.89 L492.84,138.83 L493.30,140.27 L493.40,139.89 L493.96,138.49 L494.53,138.62 L495.10,137.76 L495.67,138.07 L496.23,136.42 L496.80,135.99 L497.00,136.95 L497.47,137.89 L498.20,138.07 L498.92,137.06 L499.10,137.25 L499.53,137.75 L500.10,136.02 L500.66,134.85 L501.23,135.05 L501.80,134.72 L502.20,133.42 L502.38,133.00 L502.99,133.66 L503.61,135.65 L504.22,135.17 L504.84,136.11 L505.30,136.75 L505.42,136.87 L505.91,135.57 L506.40,135.51 L506.88,133.90 L507.37,133.63 L507.85,132.53 L508.34,133.40 L508.50,132.38 L509.01,132.06 L509.77,132.60 L510.52,132.96 L511.28,133.88 L511.60,132.38 L511.93,132.45 L512.49,132.34 L513.06,133.81 L513.63,132.14 L514.20,130.82 L514.20,131.40 L514.99,132.49 L515.78,131.03 L516.56,131.08 L516.90,132.25 L517.20,131.39 L517.71,130.90 L518.23,129.46 L518.74,130.55 L519.26,129.78 L519.77,128.37 L520.00,128.18 L520.40,126.49 L521.11,128.72 L521.83,128.51 L522.54,129.32 L523.10,129.78 L523.19,128.91 L523.61,127.29 L524.03,128.04 L524.45,126.58 L524.87,126.19 L525.29,125.31 L525.72,124.81 L526.14,122.75 L526.30,124.95 L526.68,124.59 L527.29,125.71 L527.91,126.83 L528.52,125.98 L529.14,125.22 L529.40,126.07 L529.60,125.45 L529.96,125.22 L530.32,124.91 L530.68,122.74 L531.04,123.66 L531.40,121.64 L531.76,122.19 L532.00,121.42 L532.22,121.42 L532.90,122.01 L533.58,122.11 L534.26,122.49 L534.95,122.16 L535.20,123.48 L535.39,124.33 L535.70,123.68 L536.02,122.48 L536.33,121.31 L536.64,119.60 L536.95,120.34 L537.26,118.56 L537.57,117.81 L537.80,117.10 L538.00,117.33 L538.79,116.80 L539.57,116.90 L540.36,116.04 L540.90,116.44 L541.06,118.10 L541.55,115.82 L542.05,115.07 L542.55,114.98 L543.05,114.47 L543.54,112.57 L544.04,112.57 L544.54,112.73 L545.00,111.69 L545.04,111.55 L545.61,111.98 L546.17,109.85 L546.74,109.82 L547.31,108.83 L547.88,109.67 L548.00,107.13 L548.35,107.51 L548.79,106.94 L549.24,107.11 L549.68,106.40 L550.13,106.28 L550.58,103.54 L551.00,104.53 L551.02,103.77 L551.54,102.89 L552.06,103.12 L552.58,101.49 L553.10,100.06 L553.61,100.65 L554.13,99.24 L554.65,99.22 L554.80,99.76 L554.99,99.18 L555.26,99.32 L555.54,97.31 L555.81,95.63 L556.08,95.42 L556.35,94.58 L556.62,93.67 L556.90,93.94 L557.17,92.56 L557.44,91.12 L557.50,92.37 L557.71,91.35 L557.97,90.82 L558.24,89.94 L558.50,89.39 L558.76,88.39 L559.03,88.05 L559.29,87.00 L559.56,86.22 L559.70,85.81 L559.78,84.96 L559.94,84.51 L560.11,83.71 L560.28,83.02 L560.45,81.95 L560.61,81.67 L560.78,80.64 L560.95,79.69 L561.11,78.88 L561.28,78.24 L561.45,77.48 L561.62,76.67 L561.70,76.30 L561.82,75.91 L562.06,75.15 L562.29,74.39 L562.53,73.62 L562.77,72.85 L563.01,72.09 L563.25,71.32 L563.48,70.55 L563.50,70.50 L563.72,69.79 L563.96,69.02 L564.20,68.26 L564.44,67.49 L564.68,66.72 L564.92,65.96 L565.00,65.70 L565.09,65.17 L565.23,64.38 L565.36,63.59 L565.50,62.80 L565.64,62.01 L565.77,61.22 L565.91,60.43 L566.05,59.64 L566.18,58.85 L566.32,58.06 L566.45,57.26 L566.50,57.00 L566.59,56.47 L566.72,55.68 L566.85,54.89 L566.98,54.10 L567.11,53.30 L567.24,52.51 L567.37,51.72 L567.50,50.93 L567.63,50.14 L567.70,49.70 L568.02,49.53 L568.72,49.15 L569.00,49.00 L569.09,49.48 L569.24,50.27 L569.39,51.06 L569.55,51.85 L569.70,52.64 L569.85,53.42 L569.90,53.70 L569.92,54.22 L569.95,55.02 L569.98,55.83 L570.01,56.63 L570.04,57.43 L570.08,58.23 L570.11,59.03 L570.14,59.84 L570.17,60.64 L570.20,61.44 L570.23,62.24 L570.26,63.04 L570.29,63.85 L570.30,64.00 L570.32,64.65 L570.35,65.45 L570.38,66.25 L570.41,67.06 L570.44,67.86 L570.47,68.66 L570.50,69.46 L570.53,70.26 L570.56,71.07 L570.59,71.87 L570.62,72.67 L570.64,73.47 L570.67,74.28 L570.70,75.00 L570.70,75.08 L570.75,75.88 L570.79,76.68 L570.83,77.48 L570.87,78.28 L570.92,79.09 L570.96,79.89 L571.00,80.69 L571.04,81.49 L571.09,82.29 L571.13,83.09 L571.17,83.90 L571.21,84.70 L571.26,85.50 L571.30,86.30" stroke="#ff1a1a" stroke-width="0.95" fill="none" stroke-linejoin="round"/>
<rect x="93.05" y="245.75" width="196.65" height="158.70" fill="none" stroke="#5e5e5e" stroke-width="1.45"/>
<path d="M93.05,404.45V407.45 M93.05,245.75V248.75 M117.63,404.45V406.45 M117.63,245.75V247.75 M142.21,404.45V407.45 M142.21,245.75V248.75 M166.79,404.45V406.45 M166.79,245.75V247.75 M191.38,404.45V407.45 M191.38,245.75V248.75 M215.96,404.45V406.45 M215.96,245.75V247.75 M240.54,404.45V407.45 M240.54,245.75V248.75 M265.12,404.45V406.45 M265.12,245.75V247.75 M289.70,404.45V407.45 M289.70,245.75V248.75 M93.05,404.45H90.05 M93.05,393.11H91.05 M93.05,381.78H90.05 M93.05,370.44H91.05 M93.05,359.11H90.05 M93.05,347.77H91.05 M93.05,336.44H90.05 M93.05,325.10H91.05 M93.05,313.76H90.05 M93.05,302.43H91.05 M93.05,291.09H90.05 M93.05,279.76H91.05 M93.05,268.42H90.05 M93.05,257.09H91.05 M93.05,245.75H90.05 M289.70,404.45H286.70 M289.70,388.58H287.70 M289.70,372.71H286.70 M289.70,356.84H287.70 M289.70,340.97H286.70 M289.70,325.10H287.70 M289.70,309.23H286.70 M289.70,293.36H287.70 M289.70,277.49H286.70 M289.70,261.62H287.70 M289.70,245.75H286.70" stroke="#333" stroke-width="0.9" fill="none"/>
<g class="tl"><text x="93.55" y="418.85" text-anchor="middle">73</text><text x="142.71" y="418.85" text-anchor="middle">473</text><text x="191.88" y="418.85" text-anchor="middle">873</text><text x="241.04" y="418.85" text-anchor="middle">1273</text><text x="290.20" y="418.85" text-anchor="middle">1673</text><text x="87.85" y="408.15" text-anchor="end">-5</text><text x="87.85" y="385.48" text-anchor="end">0</text><text x="87.85" y="362.81" text-anchor="end">5</text><text x="87.85" y="340.14" text-anchor="end">10</text><text x="87.85" y="317.46" text-anchor="end">15</text><text x="87.85" y="294.79" text-anchor="end">20</text><text x="87.85" y="272.12" text-anchor="end">25</text><text x="87.85" y="249.45" text-anchor="end">30</text></g>
<g class="tr"><text x="293.70" y="408.15">0</text><text x="293.70" y="376.41">10</text><text x="293.70" y="344.67">20</text><text x="293.70" y="312.93">30</text><text x="293.70" y="281.19">40</text><text x="293.70" y="249.45">50</text></g>
<text class="xt" x="190.38" y="436.55" text-anchor="middle">Temperature / K</text>
<g class="ytl" transform="translate(65.45,346.85) rotate(-90)"><text class="g16" x="-0.30" y="-0.80" textLength="6.6" lengthAdjust="spacingAndGlyphs">ε</text><text class="s75" x="6.50" y="2.70">th</text><text class="s11" x="18.70" y="0.00">/</text><text class="s108" x="26.80" y="0.00">10</text><text class="s65" x="37.80" y="-6.60">-3</text></g>
<g class="ytr" transform="translate(322.70,354.35) rotate(-90)"><text class="g14" x="-0.50" y="0.30" textLength="10.6" lengthAdjust="spacingAndGlyphs">α</text><text class="s75" x="10.20" y="3.30">th</text><text class="s11" x="21.10" y="0.00">/</text><text class="s115" x="28.30" y="0.00">10</text><text class="s65" x="40.80" y="-5.50">-6</text><text class="s11" x="46.40" y="0.00">K</text><text class="s65" x="54.60" y="-4.50">-1</text></g>
<text class="ttl" x="98.25" y="261.65">(c) <tspan fill="#1414fa">ERBO/15-Mo</tspan></text>
<path d="M98.55,272.25H115.55" stroke="#555" stroke-width="1.3"/>
<path d="M98.55,285.85H115.55" stroke="#ff4a4a" stroke-width="1.3"/>
<text class="lgk" x="118.05" y="273.85" textLength="5.2" lengthAdjust="spacingAndGlyphs">ε</text>
<text class="lsub" x="123.85" y="276.15">th</text>
<text class="lgk2" x="117.95" y="287.55" textLength="6.8" lengthAdjust="spacingAndGlyphs">α</text>
<text class="lsub" x="124.65" y="290.05">th</text>
<path d="M97.00,390.56 L97.50,390.37 L98.00,390.17 L98.50,389.98 L99.00,389.79 L99.50,389.59 L100.00,389.40 L100.50,389.20 L101.00,389.01 L101.50,388.81 L102.00,388.62 L102.50,388.42 L103.00,388.22 L103.50,388.02 L104.00,387.83 L104.50,387.63 L105.00,387.43 L105.50,387.23 L106.00,387.03 L106.50,386.83 L107.00,386.63 L107.50,386.43 L108.00,386.22 L108.50,386.02 L109.00,385.82 L109.50,385.62 L110.00,385.41 L110.50,385.21 L111.00,385.01 L111.50,384.80 L112.00,384.60 L112.50,384.39 L113.00,384.19 L113.50,383.98 L114.00,383.77 L114.50,383.57 L115.00,383.36 L115.50,383.15 L116.00,382.94 L116.50,382.73 L117.00,382.52 L117.50,382.32 L118.00,382.11 L118.50,381.89 L119.00,381.68 L119.50,381.47 L120.00,381.26 L120.50,381.05 L121.00,380.84 L121.50,380.62 L122.00,380.41 L122.50,380.20 L123.00,379.98 L123.50,379.77 L124.00,379.55 L124.50,379.34 L125.00,379.12 L125.50,378.90 L126.00,378.69 L126.50,378.47 L127.00,378.25 L127.50,378.03 L128.00,377.82 L128.50,377.60 L129.00,377.38 L129.50,377.16 L130.00,376.94 L130.50,376.72 L131.00,376.49 L131.50,376.27 L132.00,376.05 L132.50,375.83 L133.00,375.61 L133.50,375.38 L134.00,375.16 L134.50,374.93 L135.00,374.71 L135.50,374.49 L136.00,374.26 L136.50,374.03 L137.00,373.81 L137.50,373.58 L138.00,373.35 L138.50,373.13 L139.00,372.90 L139.50,372.67 L140.00,372.44 L140.50,372.21 L141.00,371.98 L141.50,371.75 L142.00,371.52 L142.50,371.29 L143.00,371.06 L143.50,370.83 L144.00,370.60 L144.50,370.36 L145.00,370.13 L145.50,369.90 L146.00,369.66 L146.50,369.43 L147.00,369.19 L147.50,368.96 L148.00,368.72 L148.50,368.48 L149.00,368.25 L149.50,368.01 L150.00,367.77 L150.50,367.54 L151.00,367.30 L151.50,367.06 L152.00,366.82 L152.50,366.58 L153.00,366.34 L153.50,366.10 L154.00,365.86 L154.50,365.62 L155.00,365.37 L155.50,365.13 L156.00,364.89 L156.50,364.65 L157.00,364.40 L157.50,364.16 L158.00,363.91 L158.50,363.67 L159.00,363.42 L159.50,363.18 L160.00,362.93 L160.50,362.68 L161.00,362.44 L161.50,362.19 L162.00,361.94 L162.50,361.69 L163.00,361.44 L163.50,361.19 L164.00,360.94 L164.50,360.69 L165.00,360.44 L165.50,360.19 L166.00,359.94 L166.50,359.68 L167.00,359.43 L167.50,359.18 L168.00,358.92 L168.50,358.67 L169.00,358.41 L169.50,358.16 L170.00,357.90 L170.50,357.65 L171.00,357.39 L171.50,357.13 L172.00,356.87 L172.50,356.61 L173.00,356.36 L173.50,356.10 L174.00,355.84 L174.50,355.58 L175.00,355.31 L175.50,355.05 L176.00,354.79 L176.50,354.53 L177.00,354.26 L177.50,354.00 L178.00,353.74 L178.50,353.47 L179.00,353.21 L179.50,352.94 L180.00,352.67 L180.50,352.41 L181.00,352.14 L181.50,351.87 L182.00,351.60 L182.50,351.33 L183.00,351.06 L183.50,350.79 L184.00,350.52 L184.50,350.25 L185.00,349.98 L185.50,349.71 L186.00,349.43 L186.50,349.16 L187.00,348.88 L187.50,348.61 L188.00,348.33 L188.50,348.06 L189.00,347.78 L189.50,347.50 L190.00,347.22 L190.50,346.94 L191.00,346.66 L191.50,346.38 L192.00,346.10 L192.50,345.82 L193.00,345.54 L193.50,345.25 L194.00,344.97 L194.50,344.69 L195.00,344.40 L195.50,344.11 L196.00,343.83 L196.50,343.54 L197.00,343.25 L197.50,342.96 L198.00,342.67 L198.50,342.38 L199.00,342.09 L199.50,341.80 L200.00,341.50 L200.50,341.21 L201.00,340.92 L201.50,340.62 L202.00,340.32 L202.50,340.03 L203.00,339.73 L203.50,339.43 L204.00,339.13 L204.50,338.83 L205.00,338.53 L205.50,338.23 L206.00,337.92 L206.50,337.62 L207.00,337.31 L207.50,337.01 L208.00,336.70 L208.50,336.39 L209.00,336.08 L209.50,335.77 L210.00,335.46 L210.50,335.15 L211.00,334.83 L211.50,334.52 L212.00,334.20 L212.50,333.89 L213.00,333.57 L213.50,333.25 L214.00,332.93 L214.50,332.61 L215.00,332.29 L215.50,331.96 L216.00,331.64 L216.50,331.31 L217.00,330.98 L217.50,330.65 L218.00,330.32 L218.50,329.99 L219.00,329.66 L219.50,329.33 L220.00,328.99 L220.50,328.65 L221.00,328.32 L221.50,327.98 L222.00,327.64 L222.50,327.29 L223.00,326.95 L223.50,326.61 L224.00,326.26 L224.50,325.91 L225.00,325.56 L225.50,325.21 L226.00,324.86 L226.50,324.50 L227.00,324.15 L227.50,323.79 L228.00,323.43 L228.50,323.07 L229.00,322.70 L229.50,322.34 L230.00,321.97 L230.50,321.60 L231.00,321.23 L231.50,320.86 L232.00,320.49 L232.50,320.11 L233.00,319.73 L233.50,319.35 L234.00,318.97 L234.50,318.59 L235.00,318.20 L235.50,317.81 L236.00,317.42 L236.50,317.03 L237.00,316.63 L237.50,316.24 L238.00,315.84 L238.50,315.43 L239.00,315.03 L239.50,314.62 L240.00,314.22 L240.50,313.80 L241.00,313.39 L241.50,312.97 L242.00,312.56 L242.50,312.13 L243.00,311.71 L243.50,311.28 L244.00,310.86 L244.50,310.42 L245.00,309.99 L245.50,309.55 L246.00,309.11 L246.50,308.67 L247.00,308.22 L247.50,307.77 L248.00,307.32 L248.50,306.86 L249.00,306.41 L249.50,305.94 L250.00,305.48 L250.50,305.01 L251.00,304.54 L251.50,304.07 L252.00,303.59 L252.50,303.11 L253.00,302.62 L253.50,302.13 L254.00,301.64 L254.50,301.15 L255.00,300.65 L255.50,300.14 L256.00,299.64 L256.50,299.13 L257.00,298.61 L257.50,298.09 L258.00,297.57 L258.50,297.04 L259.00,296.51 L259.50,295.98 L260.00,295.44 L260.50,294.89 L261.00,294.35 L261.50,293.79 L262.00,293.24 L262.50,292.68 L263.00,292.11 L263.50,291.54 L264.00,290.97 L264.50,290.39 L265.00,289.80 L265.50,289.21 L266.00,288.62 L266.50,288.02 L267.00,287.41 L267.50,286.80 L268.00,286.19 L268.50,285.57 L269.00,284.94 L269.50,284.31 L270.00,283.67 L270.50,283.03 L271.00,282.38 L271.50,281.72 L272.00,281.06 L272.50,280.40 L273.00,279.73 L273.50,279.05 L274.00,278.36 L274.50,277.67 L275.00,276.98 L275.50,276.27 L276.00,275.56 L276.50,274.85 L277.00,274.12 L277.50,273.39" stroke="#1a1a1a" stroke-width="1" fill="none"/>
<path d="M96.80,389.10 L97.20,386.47 L97.60,384.72 L98.00,383.44 L98.30,383.19 L99.11,380.70 L99.57,382.68 L100.41,377.04 L100.85,381.26 L101.49,373.40 L102.31,379.55 L102.78,369.83 L103.37,377.57 L104.05,371.00 L104.20,369.83 L104.39,372.26 L104.58,372.09 L104.77,372.03 L104.96,373.47 L105.10,374.95 L105.17,374.94 L105.46,373.06 L105.75,372.90 L106.04,372.36 L106.30,370.75 L106.33,371.54 L106.57,372.03 L106.82,372.44 L107.07,373.24 L107.20,374.05 L107.35,373.69 L107.68,372.54 L108.01,371.91 L108.20,372.58 L108.55,371.89 L109.34,372.23 L110.00,372.34 L110.12,371.84 L110.80,372.61 L111.49,370.03 L112.18,370.76 L112.50,369.78 L112.84,371.03 L113.46,370.42 L114.00,367.43 L114.11,368.14 L114.60,369.37 L114.89,369.34 L115.64,369.01 L116.38,368.15 L117.13,368.23 L117.88,368.08 L118.63,367.27 L118.70,368.02 L119.41,365.56 L120.19,367.42 L120.98,366.08 L121.00,367.47 L121.70,366.31 L122.43,365.50 L123.16,366.05 L123.88,364.81 L124.40,364.56 L124.63,364.10 L125.43,365.16 L126.24,365.51 L127.04,365.86 L127.84,365.03 L128.64,365.85 L129.20,365.11 L129.42,364.92 L130.13,365.02 L130.85,364.99 L131.56,363.64 L132.27,363.34 L132.30,363.39 L133.05,363.38 L133.83,362.50 L134.61,363.67 L135.39,362.48 L136.18,362.90 L136.50,361.92 L136.96,362.83 L137.76,362.98 L138.55,362.54 L139.34,364.37 L139.60,363.26 L140.09,364.01 L140.81,363.09 L141.54,361.61 L141.70,361.73 L142.32,362.31 L143.12,362.04 L143.93,362.03 L144.73,361.80 L145.53,360.73 L145.90,361.84 L146.32,360.58 L147.08,362.63 L147.85,362.10 L148.61,362.35 L149.10,362.85 L149.26,362.95 L149.72,361.09 L150.17,360.20 L150.62,360.02 L151.07,358.67 L151.20,359.22 L151.74,361.19 L152.50,359.58 L153.26,361.02 L154.03,359.85 L154.30,361.11 L154.77,360.45 L155.49,360.29 L156.22,360.39 L156.40,361.13 L156.86,360.42 L157.47,360.89 L158.09,360.64 L158.70,362.24 L159.32,362.18 L159.50,363.08 L159.86,362.03 L160.36,362.65 L160.86,359.42 L161.37,359.98 L161.60,360.52 L162.03,359.72 L162.82,359.54 L163.62,360.03 L164.41,359.37 L164.80,360.48 L165.12,361.85 L165.74,360.44 L166.37,358.36 L166.99,358.02 L167.40,358.02 L167.60,359.20 L168.16,358.49 L168.73,359.15 L169.30,360.82 L169.87,361.37 L170.00,360.64 L170.55,359.85 L171.27,359.20 L172.00,359.44 L172.72,358.02 L173.10,359.92 L173.34,359.25 L173.84,360.66 L174.35,362.25 L174.85,362.39 L175.20,361.19 L175.36,362.80 L175.86,363.63 L176.37,362.92 L176.87,363.40 L177.30,364.52 L177.35,363.37 L177.71,364.81 L178.07,361.37 L178.43,361.57 L178.79,361.43 L179.15,360.75 L179.40,360.52 L179.59,360.45 L180.24,359.63 L180.88,360.10 L181.53,357.33 L182.18,358.35 L182.82,357.37 L183.47,357.49 L183.60,357.45 L184.10,356.27 L184.74,355.97 L185.37,356.48 L186.01,355.68 L186.64,354.47 L186.70,356.33 L187.22,357.03 L187.78,354.96 L188.35,356.76 L188.92,358.88 L189.49,358.24 L190.05,358.41 L190.40,358.45 L190.61,357.99 L191.14,357.62 L191.68,356.78 L192.21,357.09 L192.75,355.69 L193.28,355.06 L193.70,354.06 L193.86,354.94 L194.59,354.67 L195.33,355.49 L196.06,356.67 L196.20,356.26 L196.65,355.88 L197.21,355.20 L197.77,354.42 L198.33,353.71 L198.89,353.01 L199.20,353.43 L199.45,352.39 L200.02,354.66 L200.58,354.31 L201.15,354.33 L201.70,355.06 L201.72,354.91 L202.35,354.99 L202.97,353.87 L203.60,354.67 L204.22,352.82 L204.80,351.31 L204.86,352.37 L205.62,351.23 L206.38,352.36 L207.15,352.88 L207.91,352.34 L208.50,350.76 L208.64,351.05 L209.26,352.31 L209.87,350.78 L210.49,350.04 L211.11,350.27 L211.50,350.92 L211.77,350.21 L212.52,349.69 L213.27,350.13 L214.02,350.61 L214.60,349.97 L214.71,349.52 L215.23,349.68 L215.75,348.37 L216.26,348.37 L216.78,347.87 L217.29,348.83 L217.70,346.10 L217.86,346.66 L218.63,346.87 L219.40,347.52 L220.17,348.18 L220.93,347.33 L221.70,347.34 L222.00,346.85 L222.24,346.92 L222.63,347.25 L223.02,346.20 L223.41,344.76 L223.80,344.51 L224.20,344.09 L224.40,344.05 L224.78,343.21 L225.57,343.30 L226.35,342.06 L227.14,342.38 L227.93,344.16 L228.10,341.47 L228.59,342.37 L229.21,342.25 L229.84,341.33 L230.46,340.52 L231.08,340.54 L231.71,340.07 L231.80,339.94 L232.48,338.78 L233.27,340.10 L234.07,339.72 L234.86,340.04 L235.66,340.70 L236.10,341.05 L236.22,340.89 L236.50,339.16 L236.78,339.40 L237.05,338.83 L237.33,338.05 L237.61,337.47 L237.89,335.64 L238.16,334.87 L238.44,334.82 L238.60,332.84 L238.92,333.86 L239.70,333.12 L240.47,333.02 L241.24,331.84 L242.02,332.22 L242.79,332.62 L242.90,333.22 L243.31,332.74 L243.80,331.35 L244.28,330.64 L244.77,329.55 L245.25,329.77 L245.73,328.67 L246.22,328.63 L246.60,328.93 L246.77,327.66 L247.56,326.53 L248.36,326.88 L249.16,326.37 L249.95,326.45 L250.75,328.11 L251.50,327.26 L251.52,325.99 L251.85,326.78 L252.17,326.47 L252.50,324.61 L252.83,323.65 L253.16,323.16 L253.48,322.86 L253.81,322.37 L254.00,322.33 L254.29,322.18 L254.98,321.74 L255.67,321.45 L256.35,320.52 L257.00,318.81 L257.02,319.58 L257.34,319.09 L257.66,317.99 L257.99,317.88 L258.31,316.56 L258.63,315.62 L258.95,315.76 L259.28,314.72 L259.50,314.06 L259.58,314.03 L259.85,313.28 L260.12,312.33 L260.39,311.04 L260.66,310.64 L260.93,309.93 L261.20,309.14 L261.47,308.49 L261.74,307.76 L262.00,307.00 L262.02,306.96 L262.33,306.23 L262.64,305.49 L262.96,304.75 L263.27,304.01 L263.59,303.27 L263.90,302.53 L264.00,302.30 L264.10,302.84 L264.26,303.63 L264.41,304.42 L264.56,305.20 L264.72,305.99 L264.87,306.78 L265.02,307.57 L265.18,308.36 L265.30,309.00 L265.32,308.85 L265.43,308.06 L265.55,307.27 L265.66,306.47 L265.77,305.68 L265.89,304.88 L266.00,304.09 L266.12,303.29 L266.23,302.50 L266.34,301.70 L266.46,300.91 L266.57,300.11 L266.68,299.32 L266.80,298.52 L266.91,297.73 L267.02,296.93 L267.14,296.14 L267.25,295.35 L267.30,295.00 L267.42,294.56 L267.64,293.79 L267.86,293.02 L268.08,292.25 L268.30,291.47 L268.52,290.70 L268.74,289.93 L268.96,289.16 L269.00,289.00 L269.17,288.38 L269.39,287.61 L269.61,286.84 L269.83,286.07 L270.05,285.30 L270.27,284.52 L270.49,283.75 L270.70,283.00 L270.70,282.98 L270.84,282.19 L270.97,281.39 L271.10,280.60 L271.23,279.81 L271.36,279.02 L271.50,278.23 L271.63,277.44 L271.76,276.64 L271.89,275.85 L272.02,275.06 L272.16,274.27 L272.20,274.00 L272.28,273.48 L272.40,272.68 L272.53,271.89 L272.65,271.10 L272.78,270.30 L272.90,269.51 L273.02,268.72 L273.15,267.92 L273.27,267.13 L273.39,266.34 L273.52,265.54 L273.60,265.00 L273.69,265.24 L273.99,265.98 L274.28,266.73 L274.58,267.48 L274.87,268.22 L274.90,268.30 L274.97,269.02 L275.06,269.81 L275.14,270.61 L275.22,271.41 L275.30,272.21 L275.38,273.01 L275.47,273.81 L275.55,274.61 L275.63,275.40 L275.71,276.20 L275.79,277.00 L275.88,277.80 L275.96,278.60 L276.00,279.00 L276.06,279.39 L276.19,280.19 L276.31,280.98 L276.44,281.77 L276.57,282.56 L276.69,283.36 L276.82,284.15 L276.94,284.94 L277.07,285.74 L277.20,286.53 L277.32,287.32 L277.45,288.11 L277.57,288.91 L277.70,289.70" stroke="#ff1a1a" stroke-width="0.95" fill="none" stroke-linejoin="round"/>
<rect x="387.65" y="245.75" width="196.65" height="158.80" fill="none" stroke="#5e5e5e" stroke-width="1.45"/>
<path d="M387.65,404.55V407.55 M387.65,245.75V248.75 M412.23,404.55V406.55 M412.23,245.75V247.75 M436.81,404.55V407.55 M436.81,245.75V248.75 M461.39,404.55V406.55 M461.39,245.75V247.75 M485.97,404.55V407.55 M485.97,245.75V248.75 M510.56,404.55V406.55 M510.56,245.75V247.75 M535.14,404.55V407.55 M535.14,245.75V248.75 M559.72,404.55V406.55 M559.72,245.75V247.75 M584.30,404.55V407.55 M584.30,245.75V248.75 M387.65,404.55H384.65 M387.65,393.21H385.65 M387.65,381.86H384.65 M387.65,370.52H385.65 M387.65,359.18H384.65 M387.65,347.84H385.65 M387.65,336.49H384.65 M387.65,325.15H385.65 M387.65,313.81H384.65 M387.65,302.46H385.65 M387.65,291.12H384.65 M387.65,279.78H385.65 M387.65,268.44H384.65 M387.65,257.09H385.65 M387.65,245.75H384.65 M584.30,404.55H581.30 M584.30,388.67H582.30 M584.30,372.79H581.30 M584.30,356.91H582.30 M584.30,341.03H581.30 M584.30,325.15H582.30 M584.30,309.27H581.30 M584.30,293.39H582.30 M584.30,277.51H581.30 M584.30,261.63H582.30 M584.30,245.75H581.30" stroke="#333" stroke-width="0.9" fill="none"/>
<g class="tl"><text x="388.15" y="418.95" text-anchor="middle">73</text><text x="437.31" y="418.95" text-anchor="middle">473</text><text x="486.47" y="418.95" text-anchor="middle">873</text><text x="535.64" y="418.95" text-anchor="middle">1273</text><text x="584.80" y="418.95" text-anchor="middle">1673</text><text x="382.45" y="408.25" text-anchor="end">-5</text><text x="382.45" y="385.56" text-anchor="end">0</text><text x="382.45" y="362.88" text-anchor="end">5</text><text x="382.45" y="340.19" text-anchor="end">10</text><text x="382.45" y="317.51" text-anchor="end">15</text><text x="382.45" y="294.82" text-anchor="end">20</text><text x="382.45" y="272.14" text-anchor="end">25</text><text x="382.45" y="249.45" text-anchor="end">30</text></g>
<g class="tr"><text x="588.30" y="408.25">0</text><text x="588.30" y="376.49">10</text><text x="588.30" y="344.73">20</text><text x="588.30" y="312.97">30</text><text x="588.30" y="281.21">40</text><text x="588.30" y="249.45">50</text></g>
<text class="xt" x="484.97" y="436.65" text-anchor="middle">Temperature / K</text>
<g class="ytl" transform="translate(360.05,346.85) rotate(-90)"><text class="g16" x="-0.30" y="-0.80" textLength="6.6" lengthAdjust="spacingAndGlyphs">ε</text><text class="s75" x="6.50" y="2.70">th</text><text class="s11" x="18.70" y="0.00">/</text><text class="s108" x="26.80" y="0.00">10</text><text class="s65" x="37.80" y="-6.60">-3</text></g>
<g class="ytr" transform="translate(617.30,354.35) rotate(-90)"><text class="g14" x="-0.50" y="0.30" textLength="10.6" lengthAdjust="spacingAndGlyphs">α</text><text class="s75" x="10.20" y="3.30">th</text><text class="s11" x="21.10" y="0.00">/</text><text class="s115" x="28.30" y="0.00">10</text><text class="s65" x="40.80" y="-5.50">-6</text><text class="s11" x="46.40" y="0.00">K</text><text class="s65" x="54.60" y="-4.50">-1</text></g>
<text class="ttl" x="392.85" y="261.65">(c) <tspan fill="#138a13">ERBO/15-W</tspan></text>
<path d="M393.15,272.25H410.15" stroke="#555" stroke-width="1.3"/>
<path d="M393.15,285.85H410.15" stroke="#ff4a4a" stroke-width="1.3"/>
<text class="lgk" x="412.65" y="273.85" textLength="5.2" lengthAdjust="spacingAndGlyphs">ε</text>
<text class="lsub" x="418.45" y="276.15">th</text>
<text class="lgk2" x="412.55" y="287.55" textLength="6.8" lengthAdjust="spacingAndGlyphs">α</text>
<text class="lsub" x="419.25" y="290.05">th</text>
<path d="M391.40,390.57 L391.90,390.37 L392.40,390.17 L392.90,389.97 L393.40,389.77 L393.90,389.57 L394.40,389.37 L394.90,389.17 L395.40,388.97 L395.90,388.77 L396.40,388.57 L396.90,388.37 L397.40,388.17 L397.90,387.97 L398.40,387.77 L398.90,387.56 L399.40,387.36 L399.90,387.16 L400.40,386.95 L400.90,386.75 L401.40,386.54 L401.90,386.34 L402.40,386.13 L402.90,385.93 L403.40,385.72 L403.90,385.51 L404.40,385.31 L404.90,385.10 L405.40,384.89 L405.90,384.68 L406.40,384.47 L406.90,384.26 L407.40,384.05 L407.90,383.85 L408.40,383.63 L408.90,383.42 L409.40,383.21 L409.90,383.00 L410.40,382.79 L410.90,382.58 L411.40,382.37 L411.90,382.15 L412.40,381.94 L412.90,381.73 L413.40,381.51 L413.90,381.30 L414.40,381.08 L414.90,380.87 L415.40,380.65 L415.90,380.44 L416.40,380.22 L416.90,380.00 L417.40,379.79 L417.90,379.57 L418.40,379.35 L418.90,379.13 L419.40,378.91 L419.90,378.69 L420.40,378.48 L420.90,378.26 L421.40,378.04 L421.90,377.81 L422.40,377.59 L422.90,377.37 L423.40,377.15 L423.90,376.93 L424.40,376.71 L424.90,376.48 L425.40,376.26 L425.90,376.04 L426.40,375.81 L426.90,375.59 L427.40,375.36 L427.90,375.14 L428.40,374.91 L428.90,374.69 L429.40,374.46 L429.90,374.23 L430.40,374.01 L430.90,373.78 L431.40,373.55 L431.90,373.32 L432.40,373.09 L432.90,372.86 L433.40,372.63 L433.90,372.40 L434.40,372.17 L434.90,371.94 L435.40,371.71 L435.90,371.48 L436.40,371.25 L436.90,371.02 L437.40,370.78 L437.90,370.55 L438.40,370.32 L438.90,370.08 L439.40,369.85 L439.90,369.62 L440.40,369.38 L440.90,369.15 L441.40,368.91 L441.90,368.67 L442.40,368.44 L442.90,368.20 L443.40,367.96 L443.90,367.72 L444.40,367.49 L444.90,367.25 L445.40,367.01 L445.90,366.77 L446.40,366.53 L446.90,366.29 L447.40,366.05 L447.90,365.81 L448.40,365.57 L448.90,365.32 L449.40,365.08 L449.90,364.84 L450.40,364.60 L450.90,364.35 L451.40,364.11 L451.90,363.87 L452.40,363.62 L452.90,363.38 L453.40,363.13 L453.90,362.88 L454.40,362.64 L454.90,362.39 L455.40,362.14 L455.90,361.90 L456.40,361.65 L456.90,361.40 L457.40,361.15 L457.90,360.90 L458.40,360.65 L458.90,360.40 L459.40,360.15 L459.90,359.90 L460.40,359.65 L460.90,359.40 L461.40,359.14 L461.90,358.89 L462.40,358.64 L462.90,358.38 L463.40,358.13 L463.90,357.87 L464.40,357.62 L464.90,357.36 L465.40,357.11 L465.90,356.85 L466.40,356.59 L466.90,356.34 L467.40,356.08 L467.90,355.82 L468.40,355.56 L468.90,355.30 L469.40,355.04 L469.90,354.78 L470.40,354.52 L470.90,354.26 L471.40,354.00 L471.90,353.73 L472.40,353.47 L472.90,353.21 L473.40,352.94 L473.90,352.68 L474.40,352.41 L474.90,352.15 L475.40,351.88 L475.90,351.61 L476.40,351.35 L476.90,351.08 L477.40,350.81 L477.90,350.54 L478.40,350.27 L478.90,350.00 L479.40,349.73 L479.90,349.46 L480.40,349.19 L480.90,348.91 L481.40,348.64 L481.90,348.37 L482.40,348.09 L482.90,347.82 L483.40,347.54 L483.90,347.27 L484.40,346.99 L484.90,346.71 L485.40,346.43 L485.90,346.15 L486.40,345.87 L486.90,345.59 L487.40,345.31 L487.90,345.03 L488.40,344.75 L488.90,344.47 L489.40,344.18 L489.90,343.90 L490.40,343.61 L490.90,343.33 L491.40,343.04 L491.90,342.75 L492.40,342.46 L492.90,342.17 L493.40,341.88 L493.90,341.59 L494.40,341.30 L494.90,341.01 L495.40,340.71 L495.90,340.42 L496.40,340.12 L496.90,339.83 L497.40,339.53 L497.90,339.23 L498.40,338.94 L498.90,338.64 L499.40,338.33 L499.90,338.03 L500.40,337.73 L500.90,337.43 L501.40,337.12 L501.90,336.82 L502.40,336.51 L502.90,336.20 L503.40,335.89 L503.90,335.58 L504.40,335.27 L504.90,334.96 L505.40,334.65 L505.90,334.33 L506.40,334.02 L506.90,333.70 L507.40,333.38 L507.90,333.07 L508.40,332.75 L508.90,332.42 L509.40,332.10 L509.90,331.78 L510.40,331.45 L510.90,331.13 L511.40,330.80 L511.90,330.47 L512.40,330.14 L512.90,329.81 L513.40,329.47 L513.90,329.14 L514.40,328.80 L514.90,328.46 L515.40,328.12 L515.90,327.78 L516.40,327.44 L516.90,327.10 L517.40,326.75 L517.90,326.40 L518.40,326.05 L518.90,325.70 L519.40,325.35 L519.90,325.00 L520.40,324.64 L520.90,324.28 L521.40,323.92 L521.90,323.56 L522.40,323.20 L522.90,322.83 L523.40,322.47 L523.90,322.10 L524.40,321.73 L524.90,321.35 L525.40,320.98 L525.90,320.60 L526.40,320.22 L526.90,319.84 L527.40,319.46 L527.90,319.07 L528.40,318.69 L528.90,318.30 L529.40,317.90 L529.90,317.51 L530.40,317.11 L530.90,316.71 L531.40,316.31 L531.90,315.90 L532.40,315.50 L532.90,315.09 L533.40,314.68 L533.90,314.26 L534.40,313.84 L534.90,313.42 L535.40,313.00 L535.90,312.57 L536.40,312.14 L536.90,311.71 L537.40,311.28 L537.90,310.84 L538.40,310.40 L538.90,309.96 L539.40,309.51 L539.90,309.06 L540.40,308.61 L540.90,308.15 L541.40,307.69 L541.90,307.23 L542.40,306.76 L542.90,306.29 L543.40,305.82 L543.90,305.34 L544.40,304.86 L544.90,304.38 L545.40,303.89 L545.90,303.40 L546.40,302.90 L546.90,302.40 L547.40,301.90 L547.90,301.39 L548.40,300.88 L548.90,300.36 L549.40,299.84 L549.90,299.32 L550.40,298.79 L550.90,298.26 L551.40,297.72 L551.90,297.18 L552.40,296.63 L552.90,296.08 L553.40,295.53 L553.90,294.97 L554.40,294.40 L554.90,293.83 L555.40,293.26 L555.90,292.68 L556.40,292.09 L556.90,291.50 L557.40,290.90 L557.90,290.30 L558.40,289.70 L558.90,289.09 L559.40,288.47 L559.90,287.85 L560.40,287.22 L560.90,286.58 L561.40,285.94 L561.90,285.30 L562.40,284.64 L562.90,283.99 L563.40,283.32 L563.90,282.65 L564.40,281.97 L564.90,281.29 L565.40,280.60 L565.90,279.90 L566.40,279.20 L566.90,278.49 L567.40,277.77 L567.90,277.05 L568.40,276.32 L568.90,275.58 L569.40,274.83 L569.90,274.08 L570.40,273.32 L570.90,272.55 L571.40,271.77" stroke="#1a1a1a" stroke-width="1" fill="none"/>
<path d="M391.50,389.10 L391.90,384.29 L392.10,383.88 L392.83,381.09 L393.29,383.72 L393.81,378.29 L394.57,382.55 L395.35,374.37 L395.84,381.25 L396.57,371.30 L397.28,379.52 L397.83,371.48 L398.20,372.19 L398.27,374.24 L398.34,374.10 L398.41,373.64 L398.48,378.18 L398.55,377.50 L398.62,379.08 L398.69,377.97 L398.77,380.43 L398.80,380.91 L398.83,380.48 L398.89,378.58 L398.95,376.95 L399.01,376.87 L399.07,374.65 L399.14,374.20 L399.20,374.65 L399.26,373.09 L399.32,372.87 L399.38,372.10 L399.44,372.73 L399.50,371.51 L399.50,370.59 L399.65,372.26 L399.79,371.66 L399.94,372.76 L400.08,374.42 L400.23,373.71 L400.38,375.17 L400.40,374.58 L400.56,374.93 L400.75,375.21 L400.94,372.76 L401.13,372.67 L401.30,371.17 L401.37,370.97 L402.14,370.67 L402.90,372.31 L403.20,372.85 L403.64,371.32 L404.36,370.12 L405.00,370.79 L405.07,370.02 L405.76,370.40 L406.45,369.63 L407.14,369.21 L407.50,369.23 L407.86,368.25 L408.61,368.07 L409.00,367.00 L409.38,367.84 L410.17,367.05 L410.97,367.84 L411.77,367.16 L412.00,367.87 L412.56,368.02 L413.35,366.57 L414.14,366.86 L414.94,366.64 L415.50,367.72 L415.72,368.31 L416.47,367.42 L417.22,366.30 L417.97,367.28 L418.72,364.90 L419.40,366.75 L419.47,365.22 L420.24,363.52 L421.02,367.11 L421.79,366.14 L422.57,364.10 L423.34,364.73 L424.12,364.25 L424.89,364.26 L425.20,363.06 L425.66,363.48 L426.43,364.06 L427.20,363.65 L427.97,364.10 L428.74,363.09 L429.51,364.44 L430.28,362.07 L430.50,362.68 L431.05,361.33 L431.81,362.05 L432.58,364.10 L433.34,362.76 L433.60,363.87 L434.08,363.22 L434.80,362.19 L435.53,362.32 L436.25,361.86 L436.70,361.66 L436.91,362.31 L437.48,361.67 L438.05,360.24 L438.62,359.45 L438.80,360.10 L439.32,359.99 L440.09,361.02 L440.86,362.40 L441.62,361.37 L442.00,360.88 L442.37,360.60 L443.09,359.77 L443.82,359.39 L444.54,358.97 L445.10,359.12 L445.27,359.16 L446.04,360.21 L446.81,359.65 L447.58,360.04 L448.30,359.55 L448.34,361.57 L449.10,361.04 L449.86,362.20 L450.61,361.78 L451.37,362.53 L451.40,361.33 L452.16,361.85 L452.95,363.09 L453.74,360.19 L454.50,361.72 L454.52,362.07 L455.15,360.67 L455.77,360.41 L456.40,360.26 L457.02,358.39 L457.10,359.09 L457.60,358.68 L458.17,359.38 L458.73,359.99 L459.30,360.90 L459.80,361.60 L459.86,361.74 L460.36,359.77 L460.85,361.57 L461.34,360.35 L461.84,359.40 L461.90,358.54 L462.48,359.13 L463.14,360.04 L463.81,360.39 L464.47,359.34 L465.00,361.43 L465.16,363.04 L465.93,359.87 L466.69,362.16 L467.46,361.96 L468.10,361.82 L468.19,362.80 L468.77,360.40 L469.35,360.81 L469.92,361.19 L470.50,359.43 L471.08,358.71 L471.30,358.88 L471.79,358.42 L472.59,359.76 L473.39,357.90 L474.19,359.08 L474.98,357.46 L475.50,358.78 L475.77,358.14 L476.53,356.11 L477.30,357.72 L478.06,356.70 L478.60,356.98 L478.80,358.28 L479.48,355.93 L480.15,355.54 L480.83,356.90 L481.51,355.51 L482.18,356.11 L482.80,354.83 L482.87,353.98 L483.66,354.72 L484.45,355.80 L485.24,355.75 L485.90,355.20 L486.03,355.25 L486.82,355.24 L487.62,355.01 L488.42,356.92 L489.00,355.61 L489.19,354.69 L489.91,354.79 L490.62,355.28 L491.33,354.85 L491.70,354.10 L492.08,353.82 L492.85,354.53 L493.63,353.52 L494.30,353.96 L494.36,355.39 L494.82,353.81 L495.29,353.76 L495.75,353.71 L496.21,352.65 L496.67,351.54 L497.13,352.40 L497.60,350.69 L497.60,349.94 L498.16,351.29 L498.73,351.63 L499.30,351.28 L499.87,352.52 L500.44,352.92 L501.00,352.18 L501.00,353.47 L501.47,352.73 L501.93,351.96 L502.39,350.44 L502.85,350.71 L503.31,350.28 L503.78,349.72 L504.24,348.17 L504.30,349.36 L504.93,348.33 L505.65,349.39 L506.37,350.84 L507.00,349.70 L507.09,349.77 L507.74,350.44 L508.39,348.92 L509.05,348.52 L509.70,348.42 L510.35,348.55 L511.01,345.74 L511.60,346.30 L511.67,346.16 L512.46,345.97 L513.26,346.00 L514.05,345.87 L514.84,346.55 L515.60,345.56 L515.63,346.27 L516.30,346.03 L516.97,344.78 L517.65,344.96 L518.32,345.60 L519.00,344.22 L519.60,343.14 L519.66,343.49 L520.23,342.32 L520.80,342.60 L521.36,342.45 L521.93,340.68 L522.30,340.75 L522.50,341.90 L523.05,341.33 L523.61,342.40 L524.17,342.11 L524.73,342.83 L524.90,343.23 L525.13,344.62 L525.46,342.08 L525.79,341.26 L526.12,340.50 L526.45,340.05 L526.78,339.89 L527.11,338.83 L527.44,339.40 L527.60,337.75 L527.98,338.76 L528.72,338.24 L529.47,338.76 L530.22,337.62 L530.90,338.81 L530.94,338.79 L531.35,337.98 L531.77,335.96 L532.19,337.39 L532.60,335.82 L532.90,335.29 L533.11,335.32 L533.83,334.98 L534.55,335.06 L535.26,333.53 L535.98,333.41 L536.70,333.90 L536.90,333.70 L537.31,332.92 L537.88,332.22 L538.45,331.47 L539.02,331.44 L539.59,331.74 L539.60,330.16 L540.03,331.31 L540.48,330.17 L540.93,328.59 L541.37,328.79 L541.82,326.55 L542.26,325.69 L542.71,325.33 L543.16,325.28 L543.60,324.67 L543.60,324.54 L544.17,324.40 L544.74,322.27 L545.31,323.54 L545.88,321.63 L546.44,321.59 L547.01,321.20 L547.50,320.19 L547.60,319.99 L548.31,319.87 L549.03,320.20 L549.74,320.25 L550.20,319.99 L550.31,318.64 L550.61,318.04 L550.92,317.20 L551.22,317.42 L551.53,314.93 L551.83,316.48 L552.13,314.53 L552.44,313.58 L552.74,313.62 L552.90,313.72 L553.10,312.91 L553.53,312.72 L553.95,311.39 L554.37,311.48 L554.79,310.80 L555.00,309.53 L555.13,310.19 L555.38,308.55 L555.63,307.74 L555.88,306.37 L556.13,305.99 L556.38,305.81 L556.64,303.96 L556.89,304.18 L557.14,303.26 L557.39,302.45 L557.50,301.10 L557.65,301.54 L557.91,301.05 L558.18,299.81 L558.44,299.33 L558.71,297.90 L558.97,297.94 L559.24,296.89 L559.50,296.42 L559.70,295.42 L559.75,295.60 L559.94,294.69 L560.13,294.02 L560.31,293.08 L560.50,292.34 L560.69,291.67 L560.88,290.80 L561.07,290.03 L561.26,289.25 L561.45,288.47 L561.63,287.69 L561.80,287.00 L561.85,287.08 L562.30,287.75 L562.60,288.20 L562.63,287.94 L562.74,287.14 L562.84,286.35 L562.94,285.55 L563.04,284.75 L563.14,283.95 L563.20,283.50 L563.24,283.16 L563.34,282.36 L563.44,281.56 L563.54,280.76 L563.64,279.96 L563.73,279.17 L563.83,278.37 L563.93,277.57 L564.00,277.00 L564.04,276.78 L564.16,275.98 L564.29,275.19 L564.41,274.39 L564.54,273.60 L564.67,272.81 L564.79,272.01 L564.92,271.22 L565.04,270.42 L565.17,269.63 L565.30,268.84 L565.42,268.04 L565.55,267.25 L565.68,266.46 L565.70,266.30 L565.80,265.66 L565.92,264.87 L566.05,264.07 L566.17,263.28 L566.30,262.49 L566.42,261.69 L566.55,260.90 L566.67,260.10 L566.79,259.31 L566.92,258.52 L567.00,258.00 L567.06,257.72 L567.22,256.94 L567.38,256.15 L567.54,255.36 L567.71,254.57 L567.87,253.79 L568.03,253.00 L568.19,252.21 L568.30,251.70 L568.36,251.97 L568.52,252.76 L568.68,253.55 L568.85,254.33 L569.01,255.12 L569.17,255.91 L569.34,256.70 L569.40,257.00 L569.50,257.48 L569.65,258.27 L569.81,259.06 L569.97,259.85 L570.13,260.64 L570.20,261.00 L570.24,261.43 L570.32,262.23 L570.39,263.03 L570.47,263.83 L570.54,264.63 L570.62,265.43 L570.69,266.23 L570.70,266.30 L570.74,267.03 L570.78,267.84 L570.82,268.64 L570.86,269.44 L570.90,270.24 L570.94,271.05 L570.99,271.85 L571.03,272.65 L571.07,273.46 L571.11,274.26 L571.15,275.06 L571.19,275.86 L571.20,276.00 L571.23,276.67 L571.27,277.47 L571.31,278.27 L571.35,279.07 L571.39,279.88 L571.43,280.68 L571.47,281.48 L571.51,282.29 L571.54,283.09 L571.58,283.89 L571.62,284.69 L571.66,285.50 L571.70,286.30" stroke="#ff1a1a" stroke-width="0.95" fill="none" stroke-linejoin="round"/>
</svg>
<div class="cap l1"><b>Figure 8</b>&nbsp;&nbsp;Thermal strain and thermal expansion as a function of temperature for the four alloys investigated in the present work. <b>a</b> ERBO/1.</div>
<div class="cap l2"><b>b</b> ERBO/15. <b>c</b> ERBO/15-Mo. <b>d</b> ERBO/15-W. For details, see text.</div>
</body></html>
